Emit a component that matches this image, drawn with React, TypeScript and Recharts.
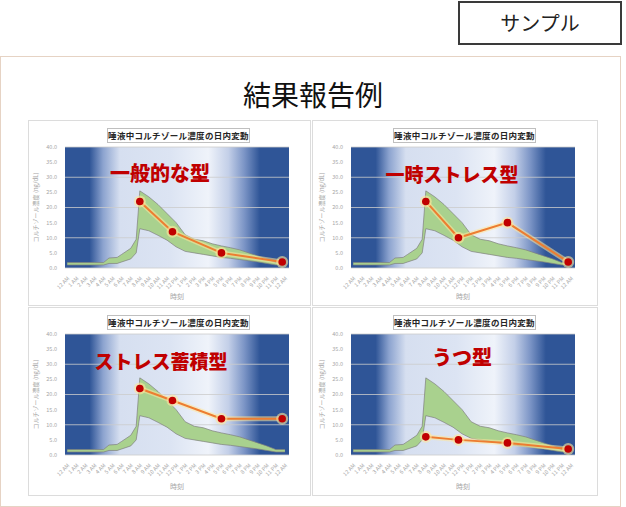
import React from 'react';
import { Area, CartesianGrid, ComposedChart, Line, XAxis, YAxis } from 'recharts';

// band (range of normal values), hours from midnight
const bandHours = [0, 1, 2, 3, 4, 4.6, 5.5, 6, 7, 7.6, 8, 9, 10, 11, 12, 13, 14, 15, 16, 17, 18, 19, 20, 21, 22, 23, 24];
const bandLow = [1.0, 1.0, 1.0, 1.0, 1.0, 1.5, 1.5, 2.0, 3.0, 5.0, 13.0, 12.3, 10.8, 9.2, 7.0, 5.5, 5.0, 4.5, 4.0, 3.5, 3.2, 2.8, 2.4, 2.0, 1.5, 1.0, 1.0];
const bandHigh = [1.8, 1.8, 1.8, 1.8, 1.8, 3.3, 3.5, 4.5, 6.5, 9.5, 25.5, 23.5, 21.0, 18.0, 15.0, 11.0, 9.5, 9.0, 8.0, 7.3, 6.7, 6.0, 5.0, 4.0, 3.0, 1.8, 1.8];

// measurement points (8 AM, 12 PM, 5 PM, 12 AM) as placed in the picture
const sampleHours = [8, 11.6, 17, 23.7];
const generalType = [22, 12, 5, 2];
const tempStressType = [22, 10, 15, 2];
const accumStressType = [22, 18, 12, 12];
const depressionType = [6, 5, 4, 2];

const hourTicks = [0, 1, 2, 3, 4, 5, 6, 7, 8, 9, 10, 11, 12, 13, 14, 15, 16, 17, 18, 19, 20, 21, 22, 23, 24];
const yTicks = [0, 5, 10, 15, 20, 25, 30, 35, 40];

const chartTitle = '唾液中コルチゾール濃度の日内変動';
const yLabel = 'コルチゾール濃度 (ng/dL)';
const xLabel = '時刻';

const bandData = bandHours.map((t, i) => ({ t, range: [bandLow[i], bandHigh[i]] }));

const fmtHour = (h: number) => {
  const hh = h % 12 === 0 ? 12 : h % 12;
  const ap = h < 12 || h === 24 ? 'AM' : 'PM';
  return `${hh} ${ap}`;
};

const FONT = '"Noto Sans CJK JP", "Noto Sans", sans-serif';
const tickStyle = { fontSize: 5.5, fill: '#a6a6a6', fontFamily: FONT };

function GlowDot(p: any) {
  if (p.cx == null) return null;
  return (
    <g key={`d${p.index}`}>
      <circle cx={p.cx} cy={p.cy} r={6} fill="#ffe699" opacity={0.6} />
      <circle cx={p.cx} cy={p.cy} r={3.8} fill="#c00000" />
    </g>
  );
}

interface CortisolChartProps {
  id: string;
  left: number;
  top: number;
  height: number;
  values: number[];
  label: string;
  labelX: number;
  labelY: number;
  labelSize: number;
}

function CortisolChart({ id, left, top, height, values, label, labelX, labelY, labelSize }: CortisolChartProps) {
  const pts = sampleHours.map((t, i) => ({ t, v: values[i] }));
  return (
    <div style={{ position: 'absolute', left, top, width: 282, height }}>
      <ComposedChart width={282} height={height} margin={{ top: 27, right: 0, bottom: 0, left: 0 }}>
        <defs>
          <linearGradient id={`bg-${id}`} x1="0" y1="0" x2="1" y2="0">
            <stop offset="0" stopColor="#2f5597" />
            <stop offset="0.11" stopColor="#2f5597" />
            <stop offset="0.17" stopColor="#8ca3cf" />
            <stop offset="0.245" stopColor="#d6dff0" />
            <stop offset="0.47" stopColor="#dce4f3" />
            <stop offset="0.64" stopColor="#eff3fa" />
            <stop offset="0.73" stopColor="#c3cfe8" />
            <stop offset="0.8" stopColor="#7c95c6" />
            <stop offset="0.87" stopColor="#2f5597" />
            <stop offset="1" stopColor="#2f5597" />
          </linearGradient>
        </defs>
        <CartesianGrid yAxisId="l" vertical={false} stroke="#cccccc" strokeWidth={0.8} fill={`url(#bg-${id})`} fillOpacity={1} />
        <XAxis
          dataKey="t"
          type="number"
          domain={[-0.25, 24.45]}
          ticks={hourTicks}
          interval={0}
          tickFormatter={fmtHour}
          angle={-45}
          textAnchor="end"
          tick={tickStyle}
          tickLine={false}
          axisLine={false}
          height={height - 27 - 121}
          allowDataOverflow
          label={{ value: xLabel, position: 'insideBottom', offset: 6, style: { fontSize: 7, fill: '#a6a6a6', fontFamily: FONT } }}
        />
        <YAxis
          yAxisId="l"
          domain={[0, 40]}
          ticks={yTicks}
          tickFormatter={(v: number) => v.toFixed(1)}
          tick={tickStyle}
          tickLine={false}
          axisLine={false}
          width={37}
          label={{ value: yLabel, angle: -90, position: 'insideLeft', offset: 8, style: { fontSize: 6, fill: '#a6a6a6', fontFamily: FONT, textAnchor: 'middle' } }}
        />
        <YAxis
          yAxisId="r"
          orientation="right"
          domain={[0, 40]}
          ticks={yTicks}
          tickFormatter={(v: number) => v.toFixed(2)}
          tick={tickStyle}
          tickLine={false}
          axisLine={false}
          width={21}
        />
        <Area
          yAxisId="l"
          data={bandData}
          dataKey="range"
          type="linear"
          fill="#a9d18e"
          fillOpacity={1}
          stroke="#7f7f7f"
          strokeWidth={0.7}
          isAnimationActive={false}
        />
        <Line yAxisId="l" data={pts} dataKey="v" type="linear" stroke="#ffe699" strokeOpacity={0.55} strokeWidth={5} dot={false} isAnimationActive={false} />
        <Line yAxisId="l" data={pts} dataKey="v" type="linear" stroke="#ed7d31" strokeWidth={2} dot={GlowDot} activeDot={false} isAnimationActive={false} />
      </ComposedChart>
      <div
        style={{
          position: 'absolute', left: 79, top: 8, width: 143, height: 15, boxSizing: 'border-box',
          border: '1px solid #bfbfbf', background: '#fff', fontFamily: FONT, fontSize: 8.5, fontWeight: 700,
          color: '#262626', lineHeight: '13px', textAlign: 'center', whiteSpace: 'nowrap', letterSpacing: 0.3,
        }}
      >
        {chartTitle}
      </div>
      <div
        style={{
          position: 'absolute', left: labelX, top: labelY, transform: 'translate(-50%, -50%)', whiteSpace: 'nowrap',
          fontFamily: FONT, fontWeight: 900, fontSize: labelSize, color: '#c00000', lineHeight: 1,
        }}
      >
        {label}
      </div>
    </div>
  );
}

export default function App() {
  return (
    <div style={{ position: 'absolute', left: 0, top: 0, width: 626, height: 507, background: '#fff', fontFamily: FONT, overflow: 'hidden' }}>
      <div
        style={{
          position: 'absolute', left: 458, top: 1, width: 164, height: 44, boxSizing: 'border-box', border: '2px solid #3a3a3a',
          fontSize: 20, lineHeight: '40px', textAlign: 'center', color: '#222',
        }}
      >
        サンプル
      </div>
      <div style={{ position: 'absolute', left: 0, top: 56, width: 621, height: 451, boxSizing: 'border-box', border: '1.5px solid #e6d3c4' }} />
      <div style={{ position: 'absolute', left: 0, width: 626, top: 76, textAlign: 'center', fontSize: 28, lineHeight: '36px', color: '#111' }}>
        結果報告例
      </div>
      <div style={{ position: 'absolute', left: 28, top: 120, width: 283, height: 186, boxSizing: 'border-box', border: '1px solid #dcdcdc' }} />
      <div style={{ position: 'absolute', left: 312, top: 120, width: 286, height: 186, boxSizing: 'border-box', border: '1px solid #dcdcdc' }} />
      <div style={{ position: 'absolute', left: 28, top: 307, width: 283, height: 189, boxSizing: 'border-box', border: '1px solid #dcdcdc' }} />
      <div style={{ position: 'absolute', left: 312, top: 307, width: 286, height: 189, boxSizing: 'border-box', border: '1px solid #dcdcdc' }} />
      <CortisolChart id="a" left={28} top={120} height={185} values={generalType} label="一般的な型" labelX={132} labelY={53} labelSize={20} />
      <CortisolChart id="b" left={314} top={120} height={185} values={tempStressType} label="一時ストレス型" labelX={138} labelY={53} labelSize={19} />
      <CortisolChart id="c" left={28} top={307} height={188} values={accumStressType} label="ストレス蓄積型" labelX={133} labelY={53} labelSize={19} />
      <CortisolChart id="d" left={314} top={307} height={188} values={depressionType} label="うつ型" labelX={148} labelY={50} labelSize={20} />
    </div>
  );
}
